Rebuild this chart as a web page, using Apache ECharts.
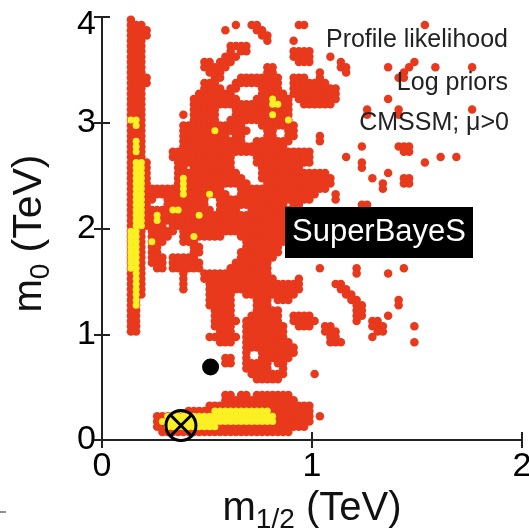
<!DOCTYPE html>
<html><head><meta charset="utf-8">
<script src="https://cdn.jsdelivr.net/npm/echarts@6/dist/echarts.min.js"></script>
<style>html,body{margin:0;padding:0;background:#fff}#c{width:529px;height:531px}</style>
</head><body><div id="c"></div>
<script>
// Axis ticks
const xTicks = [0, 1, 2];
const yTicks = [0, 1, 2, 3, 4];
// Profile-likelihood grid: cell size in TeV (m1/2, m0); rows from m0 = 4 downward, columns from m1/2 = 0
const cellX = 0.025, cellY = 0.05;
// Column ranges of cells inside the outer (95%) contour, one string per row
const redRows = [
"5",
"5-7,25,28-29,37-38,61",
"5-8,23,29-30",
"5-8,30-31",
"5-7,31,36",
"5-7,24-27",
"5-7,24,26-27,36-39",
"5-7,23-25,36-39,43",
"5-7,19-20,22-24,37-39,45,59",
"5-7,19-23,31-32,45-46,54,58,63,70",
"5-7,20-22,31-32,41,46,57",
"5-8,21-22,26-33,36-38,41,56-57",
"5-8,19-21,25-33,36-42",
"5-7,19-22,24-25,30-33,36-44",
"5-7,18-24,30-34,36-44",
"5-7,17-25,29-35,37-44,54",
"5-7,17-35,38-43",
"5-7,17-21,25-35,50,56,70",
"5-7,15,17-21,25-35,50,56",
"5-7,17-21,24-35",
"5-7,15-26,30-36",
"5-7,15-27,31-32,35-36",
"5-7,15-23,25-26,31-32,35-36,41",
"5-7,15-26,29-35,41",
"5-7,15-34,49,56-58",
"5-7,13-39,57-58",
"5-7,13-24,29-39,46,64,67",
"5-8,14-24,29-39,49,61",
"5-8,14-15,17-24,30-37,49",
"5-8,14-25,30-42,54",
"5-8,14-26,30-43,51,57-58",
"5-8,14-27,31-43,53,57-58",
"5-22,26-42,53",
"5-23,26-40,44",
"5-9,12-19,22-39,44",
"5-8,12-19,22-34,36-37,49-50",
"5-20,22-25,28-36",
"5-36",
"5-35",
"5-11,13-35",
"5-7,9-13,15-34",
"5-7,9-12,15-22,26-34",
"5-7,9-11,15-17,27-34",
"5-7,9-10,17-18,27-33",
"5-7,9-10,17-18,26-33",
"5-7,9-11,13-17,26-32",
"5-7,9-11,13-18,25-31",
"5-7,10-11,13-18,24-31,41,48,57",
"5-7,15,19-31,48,54",
"5-7,15,19-32,37",
"5-7,15,20-37,44-45",
"5-7,15,20-37,45-46",
"5-7,20-24,27-36,46-47",
"5-6,20-24,29-31,33-35,47-48,56",
"5-6,20-24,29-31,48-49,56",
"5-6,21-24,29-33,48-49",
"5-6,21-24,28-33,36-39,48-49,54",
"5-6,21-25,27-33,36-40,48,51-52",
"5-6,21-24,27-34,37-39,42-43,51-53,59",
"5-6,22-24,27-34,42-44,52-53",
"20-25,27-34,43-44,51",
"22-24,27-35,43-45,59",
"27-36",
"27,30-36",
"23-24,27,30-35",
"23-24,27-31,33-34",
"27-31,34",
"28-34,40",
"29-33",
"",
"",
"23-24,26-27,29-35",
"23-36",
"20-39",
"16-39",
"10-39,41",
"10-39",
"10-38",
"11-35",
""
];
// Column ranges of cells inside the inner (68%) contour
const yellowRows = [
"","","","","","","","","","","","","","","",
"32","32-33","","32","5-6,35",
"6","21","","6","6","6","","6-7","6-7","6-7",
"6-7,15","6-7,15","6-7,15","6-7,15,20","6-7","6-7","6-7,13-14","6-7,10,18","6-7,10","6-7",
"5-6","5-6,17","5-6,9","5-6","5-6","5-6","5-6","5-6","6","6",
"6","6","6","6","6","","","","","",
"","","","","","","","","","",
"","","","","21-31","12-32","11-32","12-21","",""
];
const benchmark = [[0.517, 0.69]];
const bestFit = [[0.376, 0.137]];

function expand(rows) {
  const pts = [];
  rows.forEach((s, r) => {
    if (!s) return;
    s.split(',').forEach(seg => {
      const p = seg.split('-').map(Number);
      const a = p[0], b = p.length > 1 ? p[1] : p[0];
      for (let c = a; c <= b; c++) pts.push([(c + 0.5) * cellX, 4 - (r + 0.5) * cellY]);
    });
  });
  return pts;
}

const FONT = 'Liberation Sans, Arial, Helvetica, sans-serif';
const chart = echarts.init(document.getElementById('c'), null, {renderer: 'canvas'});
const axisLineStyle = {color: '#222', width: 2};
const nameRich = {
  m: {fontSize: 40, lineHeight: 50, color: '#111', fontFamily: FONT},
  s: {fontSize: 28, lineHeight: 14, verticalAlign: 'bottom', color: '#111', fontFamily: FONT},
  t: {fontSize: 40, lineHeight: 50, color: '#111', fontFamily: FONT}
};
const nameRichY = {
  m: {fontSize: 40, lineHeight: 50, color: '#111', fontFamily: FONT},
  s: {fontSize: 28, lineHeight: 14, verticalAlign: 'bottom', color: '#111', fontFamily: FONT},
  t: {fontSize: 41, lineHeight: 50, color: '#111', fontFamily: FONT, padding: [0, 10, 0, 0]}
};
chart.setOption({
  animation: false,
  backgroundColor: '#fff',
  grid: {left: 102, right: 7, top: 17, bottom: 91, containLabel: false, outerBoundsMode: 'none'},
  xAxis: [{
    type: 'value', min: xTicks[0], max: xTicks[xTicks.length - 1], interval: 1, position: 'bottom',
    axisLine: {show: true, lineStyle: axisLineStyle},
    axisTick: {show: true, inside: true, length: 8, lineStyle: axisLineStyle},
    axisLabel: {fontSize: 34, color: '#000', margin: 10, fontFamily: FONT},
    splitLine: {show: false},
    name: '{m|m}{s|1/2} {t|(TeV)}', nameLocation: 'middle', nameGap: 35,
    nameTextStyle: {fontSize: 40, fontFamily: FONT, color: '#111', rich: nameRich}
  }, {
    type: 'value', min: xTicks[0], max: xTicks[xTicks.length - 1], interval: 1, position: 'top',
    axisLine: {show: true, lineStyle: axisLineStyle},
    axisTick: {show: true, inside: true, length: 8, lineStyle: axisLineStyle},
    axisLabel: {show: false}, splitLine: {show: false}
  }],
  yAxis: [{
    type: 'value', min: yTicks[0], max: yTicks[yTicks.length - 1], interval: 1, position: 'left',
    axisLine: {show: true, lineStyle: axisLineStyle},
    axisTick: {show: true, inside: true, length: 8, lineStyle: axisLineStyle},
    axisLabel: {
      fontSize: 34, color: '#000', margin: 6, fontFamily: FONT,
      formatter: v => v === yTicks[yTicks.length - 1] ? '{a|' + v + '}' : String(v),
      rich: {a: {fontSize: 34, color: '#000', fontFamily: FONT, padding: [16, 0, 0, 0]}}
    },
    splitLine: {show: false},
    name: '{m|m}{s|0} {t|(TeV)}', nameLocation: 'middle', nameGap: 47,
    nameTextStyle: {fontSize: 40, fontFamily: FONT, color: '#111', rich: nameRichY}
  }, {
    type: 'value', min: yTicks[0], max: yTicks[yTicks.length - 1], interval: 1, position: 'right',
    axisLine: {show: true, lineStyle: axisLineStyle},
    axisTick: {show: true, inside: true, length: 8, lineStyle: axisLineStyle},
    axisLabel: {show: false}, splitLine: {show: false}
  }],
  series: [{
    type: 'scatter', data: expand(redRows), symbol: 'circle', symbolSize: 8.5,
    itemStyle: {color: '#e8391d', opacity: 1, borderWidth: 0}, emphasis: {disabled: true}, silent: true, z: 2
  }, {
    type: 'scatter', data: expand(yellowRows), symbol: 'circle', symbolSize: 7,
    itemStyle: {color: '#fbf023', opacity: 1, borderWidth: 0}, emphasis: {disabled: true}, silent: true, z: 3
  }, {
    type: 'scatter', data: benchmark, symbol: 'circle', symbolSize: 17,
    itemStyle: {color: '#000', opacity: 1}, emphasis: {disabled: true}, silent: true, z: 4
  }, {
    type: 'scatter', data: bestFit, symbol: 'circle', symbolSize: 30,
    itemStyle: {color: 'transparent', borderColor: '#000', borderWidth: 3, opacity: 1}, emphasis: {disabled: true}, silent: true, z: 5
  }, {
    type: 'scatter', data: bestFit, symbol: 'path://M0,0L10,10M10,0L0,10', symbolSize: 21,
    itemStyle: {color: 'transparent', borderColor: '#000', borderWidth: 3, opacity: 1}, emphasis: {disabled: true}, silent: true, z: 5
  }],
  graphic: [
    {type: 'text', z: 100, style: {text: 'Profile likelihood', x: 508, y: 40, align: 'right', verticalAlign: 'middle', fontSize: 25, fontFamily: FONT, fill: '#222'}},
    {type: 'text', z: 100, style: {text: 'Log priors', x: 508, y: 83, align: 'right', verticalAlign: 'middle', fontSize: 25, fontFamily: FONT, fill: '#222'}},
    {type: 'text', z: 100, style: {text: 'CMSSM; μ>0', x: 509, y: 123, align: 'right', verticalAlign: 'middle', fontSize: 25, fontFamily: FONT, fill: '#222'}},
    {type: 'rect', z: 100, shape: {x: 285, y: 207, width: 188, height: 51}, style: {fill: '#000'}},
    {type: 'text', z: 101, style: {text: 'SuperBayeS', x: 379, y: 232, align: 'center', verticalAlign: 'middle', fontSize: 31, fontFamily: FONT, fill: '#fff'}},
    {type: 'line', z: 100, shape: {x1: 0, y1: 512, x2: 6, y2: 512}, style: {stroke: '#222', lineWidth: 1}}
  ]
});
</script>
</body></html>
